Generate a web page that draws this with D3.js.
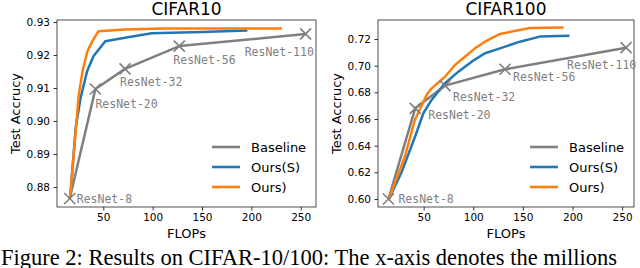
<!DOCTYPE html>
<html>
<head>
<meta charset="utf-8">
<script src="https://cdn.jsdelivr.net/npm/d3@7"></script>
<style>
  body { margin: 0; background: white; }
</style>
</head>
<body>
<svg id="chart" width="640" height="268" font-family="DejaVu Sans, sans-serif"></svg>
<script>
// data
const models = ["ResNet-8", "ResNet-20", "ResNet-32", "ResNet-56", "ResNet-110"];
const seriesNames = ["Baseline", "Ours(S)", "Ours)"];

// CIFAR10
const c10BaseFlops = [16, 42, 72, 127, 255];
const c10BaseAcc = [0.8765, 0.9097, 0.9158, 0.9227, 0.9264];
const c10SFlops = [16.5, 22, 27, 33.6, 40, 52, 72, 99, 150, 196];
const c10SAcc = [0.877, 0.8979, 0.907, 0.9151, 0.9196, 0.9242, 0.9252, 0.9266, 0.927, 0.9274];
const c10OursFlops = [16.5, 25, 29, 34, 39, 45, 72, 110, 231];
const c10OursAcc = [0.877, 0.9076, 0.9152, 0.9212, 0.9242, 0.9272, 0.9277, 0.928, 0.928];
const c10Ticks = [0.88, 0.89, 0.90, 0.91, 0.92, 0.93];

// CIFAR100
const c100BaseFlops = [14.5, 41.5, 71.5, 132, 254];
const c100BaseAcc = [0.600, 0.668, 0.685, 0.6973, 0.7135];
const c100SFlops = [15, 28, 41.3, 49.7, 58, 71.5, 85, 98.4, 111.8, 127, 147, 167, 197];
const c100SAcc = [0.600, 0.6205, 0.6467, 0.6643, 0.6743, 0.6868, 0.6955, 0.703, 0.7093, 0.713, 0.718, 0.7218, 0.7225];
const c100OursFlops = [15, 31, 41, 53, 58, 71.5, 81.6, 91.6, 101.7, 111.8, 127, 157, 191];
const c100OursAcc = [0.600, 0.6317, 0.659, 0.678, 0.683, 0.6917, 0.7005, 0.7067, 0.713, 0.718, 0.7238, 0.7283, 0.7287];
const c100Ticks = [0.60, 0.62, 0.64, 0.66, 0.68, 0.70, 0.72];

const xTicks = [50, 100, 150, 200, 250];

// layout
const colors = ["#7f7f7f", "#1f77b4", "#ff7f0e"];
const panels = [
    {
        title: "CIFAR10", left: 57, right: 316, top: 20, bottom: 207,
        xDomain: [3.1, 265.5], yDomain: [0.87394, 0.93061], yTicks: c10Ticks,
        series: [[c10BaseFlops, c10BaseAcc], [c10SFlops, c10SAcc], [c10OursFlops, c10OursAcc]],
        // label offsets [dx, dy of baseline] in pixels
        labelOffsets: [[7, 4], [0, 19], [-5, 17], [-6, 18], [-61, 22]],
    },
    {
        title: "CIFAR100", left: 378, right: 634, top: 20, bottom: 207,
        xDomain: [4, 262], yDomain: [0.594, 0.73425], yTicks: c100Ticks,
        series: [[c100BaseFlops, c100BaseAcc], [c100SFlops, c100SAcc], [c100OursFlops, c100OursAcc]],
        labelOffsets: [[10, 4], [13, 11], [8, 15], [8, 12], [-59, 21]],
    },
];

const svg = d3.select("#chart");

panels.forEach(p => {
    const x = d3.scaleLinear().domain(p.xDomain).range([p.left, p.right]);
    const y = d3.scaleLinear().domain(p.yDomain).range([p.bottom, p.top]);
    const g = svg.append("g");

    // axes
    g.append("g")
        .attr("transform", `translate(0,${p.bottom})`)
        .call(d3.axisBottom(x).tickValues(xTicks).tickSize(3.5).tickPadding(3.5).tickFormat(d3.format("d")))
        .call(a => a.select(".domain").remove())
        .call(a => a.selectAll("text").attr("font-size", "10.5px").attr("fill", "#000").attr("font-family", "DejaVu Sans"))
        .call(a => a.selectAll("line").attr("stroke", "#000").attr("stroke-width", 0.8));

    g.append("g")
        .attr("transform", `translate(${p.left},0)`)
        .call(d3.axisLeft(y).tickValues(p.yTicks).tickSize(3.5).tickPadding(3.5).tickFormat(d3.format(".2f")))
        .call(a => a.select(".domain").remove())
        .call(a => a.selectAll("text").attr("font-size", "10.5px").attr("fill", "#000").attr("font-family", "DejaVu Sans"))
        .call(a => a.selectAll("line").attr("stroke", "#000").attr("stroke-width", 0.8));

    // frame
    g.append("rect")
        .attr("x", p.left).attr("y", p.top)
        .attr("width", p.right - p.left).attr("height", p.bottom - p.top)
        .attr("fill", "none").attr("stroke", "#222").attr("stroke-width", 0.8);

    // lines
    const line = d3.line().x(d => x(d[0])).y(d => y(d[1]));
    p.series.forEach((s, i) => {
        const pts = s[0].map((f, k) => [f, s[1][k]]);
        g.append("path")
            .datum(pts)
            .attr("d", line)
            .attr("fill", "none")
            .attr("stroke", colors[i])
            .attr("stroke-width", 2.5)
            .attr("stroke-linejoin", "round");
    });

    // baseline x markers
    const base = p.series[0];
    base[0].forEach((f, k) => {
        const cx = x(f), cy = y(base[1][k]);
        g.append("path")
            .attr("d", `M${cx - 5.5},${cy - 5.5}L${cx + 5.5},${cy + 5.5}M${cx - 5.5},${cy + 5.5}L${cx + 5.5},${cy - 5.5}`)
            .attr("stroke", colors[0])
            .attr("stroke-width", 1.6);
        g.append("text")
            .attr("x", cx + p.labelOffsets[k][0])
            .attr("y", cy + p.labelOffsets[k][1])
            .attr("font-family", "DejaVu Sans Mono, monospace")
            .attr("font-size", "11.5px")
            .attr("fill", "#808080")
            .text(models[k]);
    });

    // legend
    seriesNames.forEach((name, i) => {
        const ly = 147 + i * 20;
        g.append("line")
            .attr("x1", p.right - 104).attr("x2", p.right - 76)
            .attr("y1", ly).attr("y2", ly)
            .attr("stroke", colors[i]).attr("stroke-width", 2.6);
        g.append("text")
            .attr("x", p.right - 65).attr("y", ly + 4.7)
            .attr("font-size", "13px")
            .text(name);
    });

    // titles
    g.append("text")
        .attr("x", (p.left + p.right) / 2).attr("y", 15)
        .attr("text-anchor", "middle").attr("font-size", "17px")
        .text(p.title);
    g.append("text")
        .attr("x", (p.left + p.right) / 2).attr("y", 238)
        .attr("text-anchor", "middle").attr("font-size", "13px")
        .text("FLOPs");
    g.append("text")
        .attr("transform", `translate(${p.left - 37},${(p.top + p.bottom) / 2}) rotate(-90)`)
        .attr("text-anchor", "middle").attr("font-size", "13px")
        .text("Test Accrucy");
});

// caption (cut off at the bottom, like the source crop)
svg.append("text")
    .attr("x", 1).attr("y", 265)
    .attr("font-family", "Liberation Serif, serif")
    .attr("font-size", "22.5px")
    .text("Figure 2: Results on CIFAR-10/100: The x-axis denotes the millions");
</script>
</body>
</html>
